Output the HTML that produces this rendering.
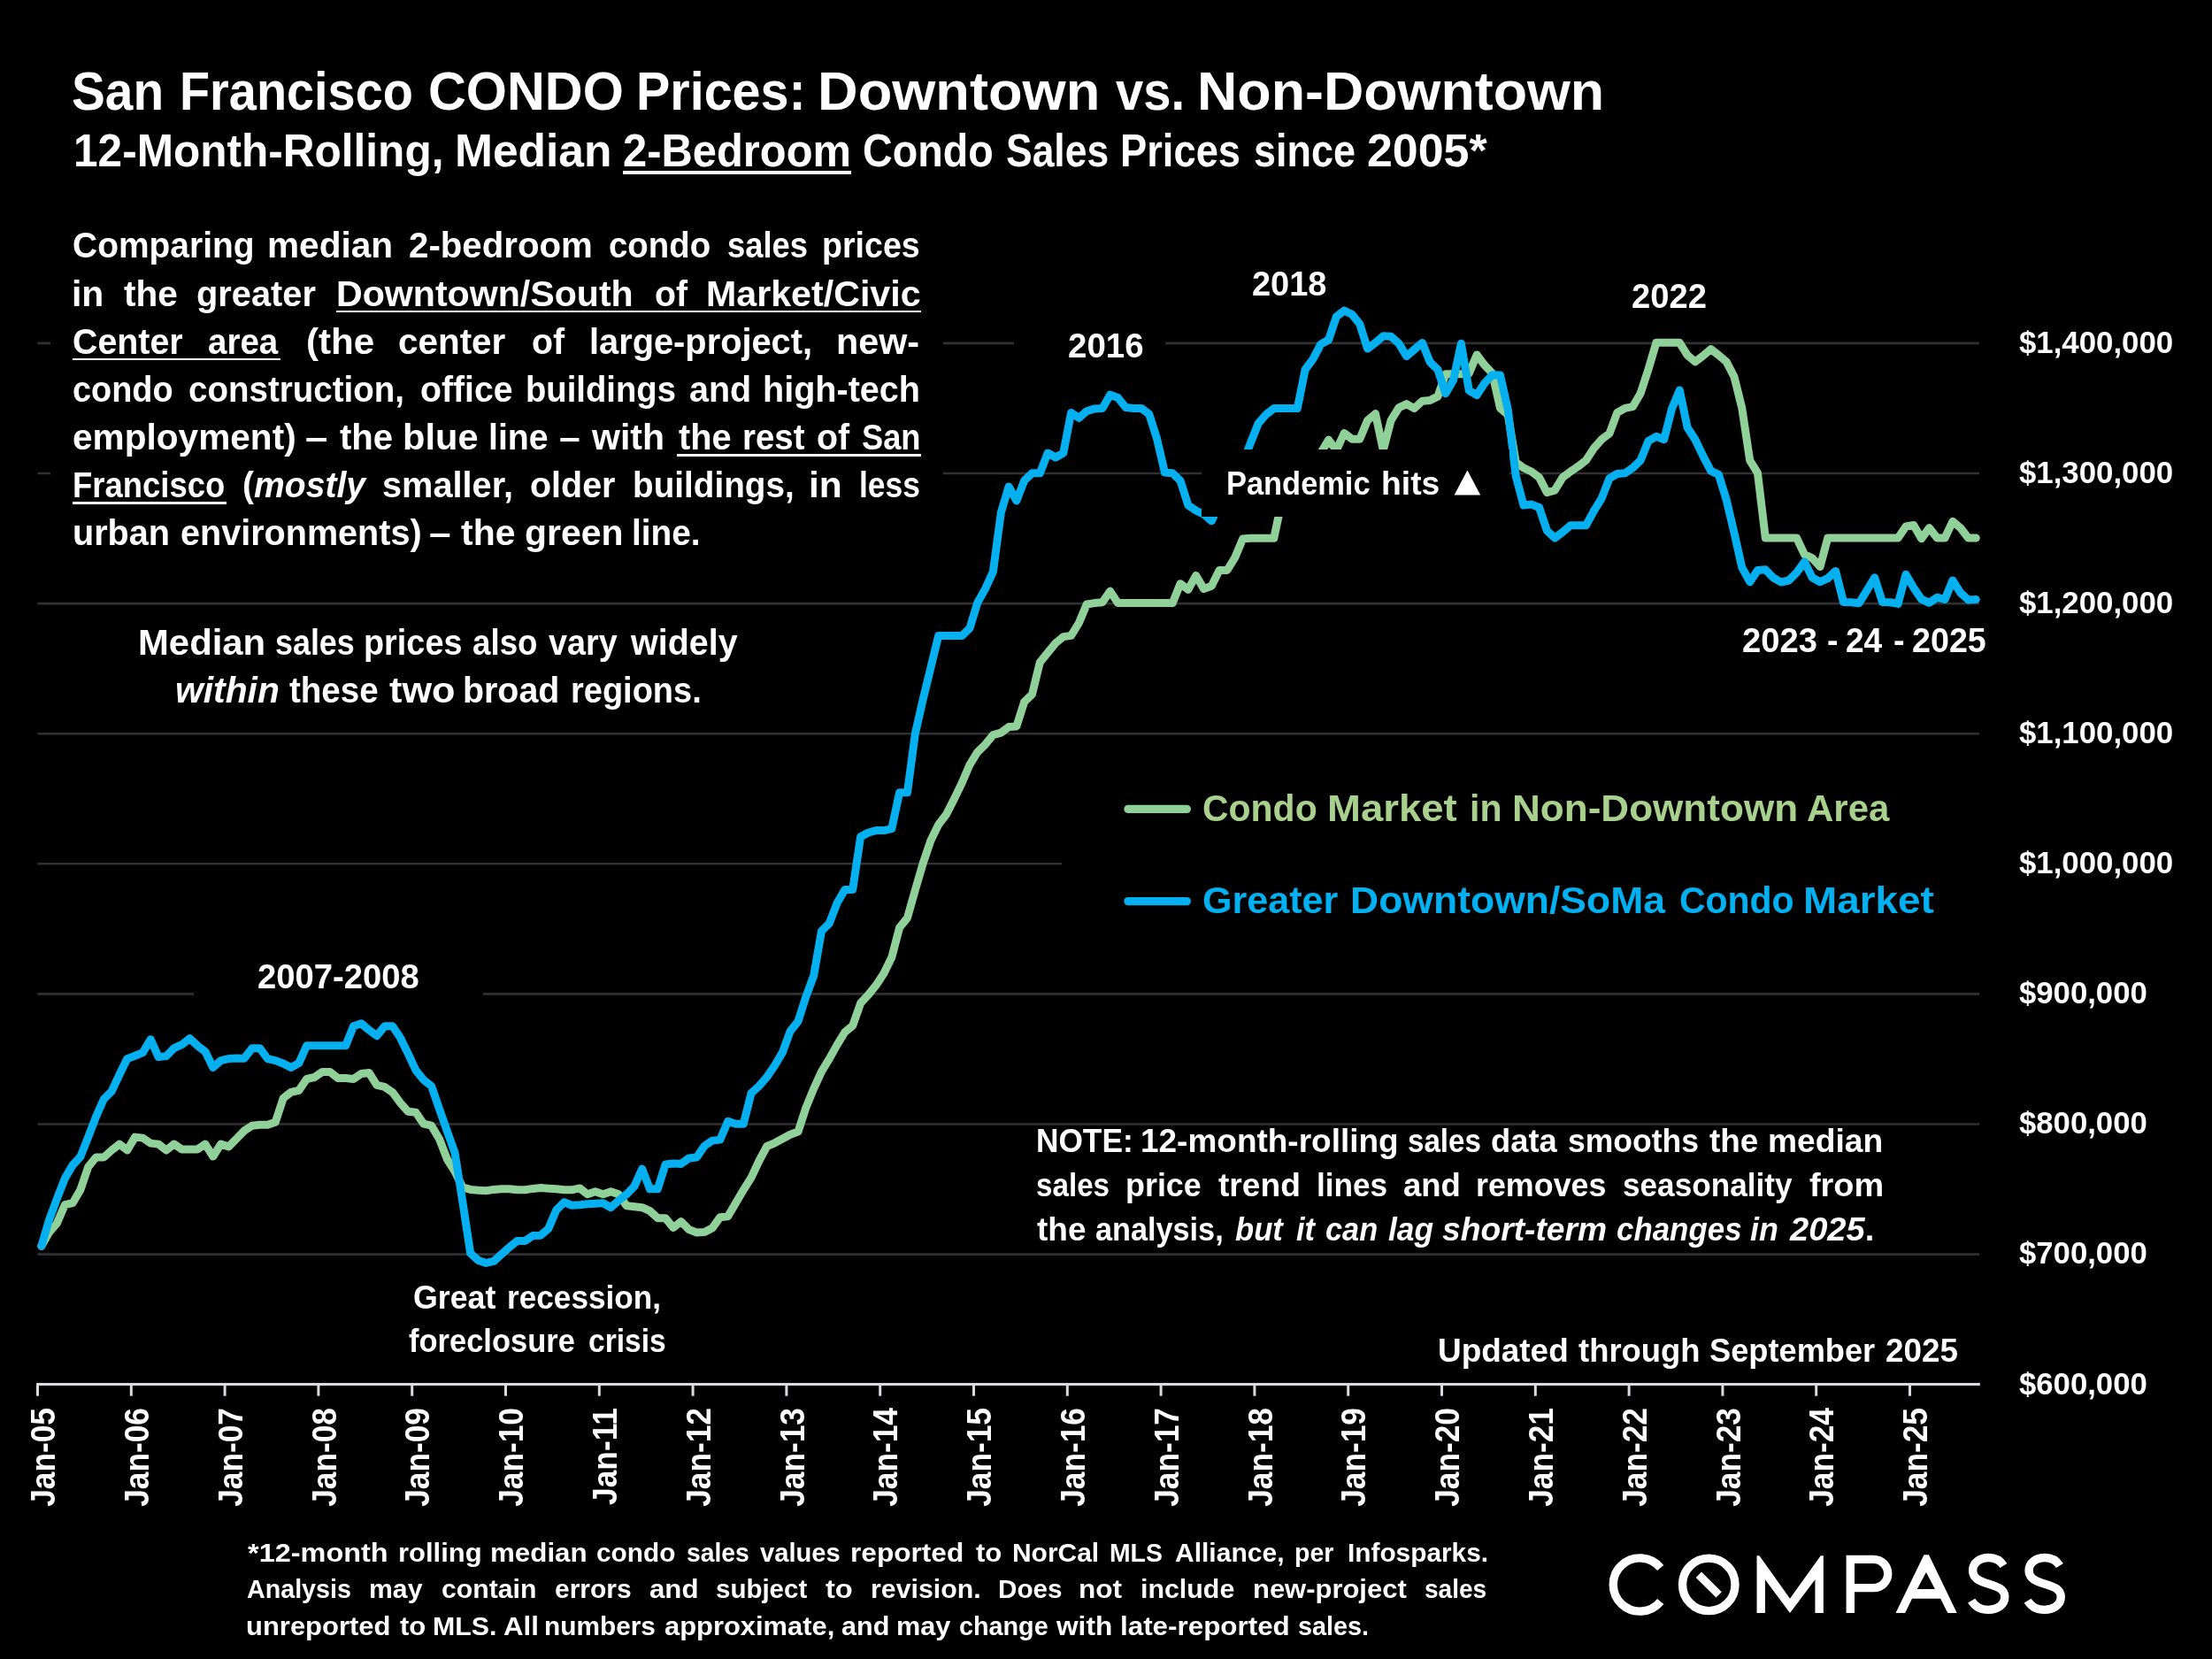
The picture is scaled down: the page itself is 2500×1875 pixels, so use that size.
<!DOCTYPE html>
<html><head><meta charset="utf-8"><title>San Francisco CONDO Prices</title>
<style>
html,body{margin:0;padding:0;background:#000;}
body{width:2500px;height:1875px;position:relative;overflow:hidden;font-family:"Liberation Sans", sans-serif;font-weight:bold;color:#fff;}
.abs{position:absolute;left:0;top:0;}
#txt{position:absolute;left:0;top:0;width:2500px;height:1875px;will-change:transform;}
.t,.xl{position:absolute;white-space:nowrap;line-height:1;transform-origin:0 0;}
.t u{text-decoration-thickness:2.7px;text-underline-offset:5px;text-decoration-skip-ink:none;}
.t u.bu{text-decoration-thickness:4.2px;text-underline-offset:5.2px;}
.ul{position:absolute;height:2.8px;background:#fff;}
.bx{position:absolute;background:#000;}
</style></head>
<body>
<svg class="abs" width="2500" height="1875" viewBox="0 0 2500 1875">
<line x1="42.4" x2="2237" y1="1417.6" y2="1417.6" stroke="#313131" stroke-width="2.6"/>
<line x1="42.4" x2="2237" y1="1270.5" y2="1270.5" stroke="#313131" stroke-width="2.6"/>
<line x1="42.4" x2="2237" y1="1123.4" y2="1123.4" stroke="#313131" stroke-width="2.6"/>
<line x1="42.4" x2="2237" y1="976.3" y2="976.3" stroke="#313131" stroke-width="2.6"/>
<line x1="42.4" x2="2237" y1="829.2" y2="829.2" stroke="#313131" stroke-width="2.6"/>
<line x1="42.4" x2="2237" y1="682.1" y2="682.1" stroke="#313131" stroke-width="2.6"/>
<line x1="42.4" x2="2237" y1="535.0" y2="535.0" stroke="#313131" stroke-width="2.6"/>
<line x1="42.4" x2="2237" y1="387.9" y2="387.9" stroke="#313131" stroke-width="2.6"/>
<path d="M46.8,1408.4 L55.6,1392.9 L64.4,1382.6 L73.3,1361.7 L82.1,1359.7 L90.9,1344.8 L99.7,1318.9 L108.5,1308.0 L117.3,1308.0 L126.2,1300.0 L135.0,1293.1 L143.8,1300.0 L152.6,1285.1 L161.4,1286.1 L170.2,1292.1 L179.1,1293.1 L187.9,1300.0 L196.7,1293.1 L205.5,1299.0 L214.3,1299.0 L223.1,1299.0 L232.0,1293.1 L240.8,1307.0 L249.6,1293.1 L258.4,1296.0 L267.2,1287.1 L276.0,1278.1 L284.9,1272.2 L293.7,1271.2 L302.5,1271.2 L311.3,1268.2 L320.1,1241.3 L328.9,1234.4 L337.8,1232.4 L346.6,1219.5 L355.4,1217.5 L364.2,1211.5 L373.0,1211.5 L381.8,1218.5 L390.7,1218.5 L399.5,1219.5 L408.3,1213.5 L417.1,1212.5 L425.9,1226.4 L434.7,1228.4 L443.6,1234.4 L452.4,1246.4 L461.2,1256.3 L470.0,1257.3 L478.8,1270.2 L487.6,1272.2 L496.5,1287.2 L505.3,1310.0 L514.1,1324.0 L522.9,1341.9 L531.7,1344.4 L540.5,1345.2 L549.4,1345.8 L558.2,1344.4 L567.0,1343.8 L575.8,1343.8 L584.6,1344.8 L593.4,1344.8 L602.3,1343.4 L611.1,1342.5 L619.9,1343.2 L628.7,1343.8 L637.5,1344.8 L646.3,1344.8 L655.2,1342.9 L664.0,1349.8 L672.8,1346.8 L681.6,1349.8 L690.4,1346.8 L699.2,1349.8 L708.1,1362.7 L716.9,1363.7 L725.7,1364.7 L734.5,1368.7 L743.3,1376.7 L752.1,1376.7 L761.0,1387.6 L769.8,1380.6 L778.6,1389.6 L787.4,1393.0 L796.2,1392.6 L805.0,1388.0 L813.9,1375.7 L822.7,1374.7 L831.5,1359.8 L840.3,1344.8 L849.1,1330.9 L857.9,1312.0 L866.8,1295.5 L875.6,1291.8 L884.4,1287.0 L893.2,1282.2 L902.0,1279.1 L910.8,1252.1 L919.7,1230.4 L928.5,1211.1 L937.3,1196.6 L946.1,1180.9 L954.9,1166.5 L963.7,1159.2 L972.6,1133.9 L981.4,1124.3 L990.2,1113.4 L999.0,1100.1 L1007.8,1082.1 L1016.6,1048.3 L1025.5,1037.4 L1034.3,1006.1 L1043.1,976.0 L1051.9,950.0 L1060.7,932.0 L1069.5,920.5 L1078.4,903.0 L1087.2,884.8 L1096.0,864.3 L1104.8,849.9 L1113.6,841.4 L1122.4,830.6 L1131.3,828.2 L1140.1,821.6 L1148.9,820.9 L1157.7,793.2 L1166.5,784.8 L1175.3,748.6 L1184.2,737.7 L1193.0,726.9 L1201.8,719.6 L1210.6,718.4 L1219.4,704.0 L1228.2,683.0 L1237.1,681.6 L1245.9,680.8 L1254.7,668.1 L1263.5,681.6 L1272.3,681.6 L1281.1,681.6 L1290.0,681.6 L1298.8,681.6 L1307.6,681.6 L1316.4,681.6 L1325.2,681.6 L1334.0,659.7 L1342.9,666.4 L1351.7,650.4 L1360.5,665.6 L1369.3,662.2 L1378.1,644.5 L1386.9,644.5 L1395.8,630.1 L1404.6,609.0 L1413.4,608.2 L1422.2,608.2 L1431.0,608.2 L1439.8,608.2 L1448.7,566.0 L1457.5,556.0 L1466.3,546.0 L1475.1,535.0 L1483.9,524.0 L1492.7,512.0 L1501.6,497.1 L1510.4,508.9 L1519.2,489.5 L1528.0,496.2 L1536.8,496.2 L1545.6,475.1 L1554.5,467.6 L1563.3,508.9 L1572.1,475.1 L1580.9,460.8 L1589.7,456.6 L1598.5,461.6 L1607.4,453.2 L1616.2,452.4 L1625.0,448.1 L1633.8,422.8 L1642.6,422.8 L1651.4,422.8 L1660.3,422.0 L1669.1,400.9 L1677.9,412.7 L1686.7,422.0 L1695.5,461.3 L1704.3,468.9 L1713.2,522.4 L1722.0,528.8 L1730.8,533.0 L1739.6,539.7 L1748.4,556.6 L1757.2,554.1 L1766.1,539.7 L1774.9,533.0 L1783.7,527.1 L1792.5,520.3 L1801.3,506.8 L1810.1,496.7 L1819.0,490.0 L1827.8,466.3 L1836.6,461.3 L1845.4,459.6 L1854.2,444.4 L1863.0,417.4 L1871.9,387.3 L1880.7,387.3 L1889.5,387.3 L1898.3,387.3 L1907.1,401.4 L1915.9,408.9 L1924.8,402.2 L1933.6,394.6 L1942.4,401.4 L1951.2,408.9 L1960.0,425.8 L1968.8,461.3 L1977.7,520.3 L1986.5,534.7 L1995.3,608.0 L2004.1,608.0 L2012.9,608.0 L2021.7,608.0 L2030.6,608.0 L2039.4,626.7 L2048.2,630.8 L2057.0,640.6 L2065.8,608.0 L2074.6,608.0 L2083.5,608.0 L2092.3,608.0 L2101.1,608.0 L2109.9,608.0 L2118.7,608.0 L2127.5,608.0 L2136.4,608.0 L2145.2,608.0 L2154.0,595.0 L2162.8,593.4 L2171.6,608.8 L2180.4,596.6 L2189.3,608.0 L2198.1,608.0 L2206.9,589.3 L2215.7,596.6 L2224.5,608.0 L2233.3,608.0" fill="none" stroke="#90D19A" stroke-width="9" stroke-linejoin="round" stroke-linecap="round"/>
<path d="M46.8,1408.4 L55.6,1378.6 L64.4,1354.7 L73.3,1331.9 L82.1,1316.9 L90.9,1307.4 L99.7,1285.1 L108.5,1262.2 L117.3,1242.3 L126.2,1233.4 L135.0,1214.5 L143.8,1196.6 L152.6,1193.2 L161.4,1189.6 L170.2,1174.7 L179.1,1194.6 L187.9,1193.6 L196.7,1184.7 L205.5,1180.7 L214.3,1173.7 L223.1,1181.7 L232.0,1188.6 L240.8,1206.5 L249.6,1198.6 L258.4,1196.6 L267.2,1196.0 L276.0,1196.2 L284.9,1184.7 L293.7,1184.7 L302.5,1196.6 L311.3,1198.6 L320.1,1202.0 L328.9,1206.5 L337.8,1201.6 L346.6,1181.7 L355.4,1181.7 L364.2,1181.7 L373.0,1181.7 L381.8,1181.7 L390.7,1181.7 L399.5,1159.8 L408.3,1156.8 L417.1,1164.2 L425.9,1170.7 L434.7,1159.8 L443.6,1159.8 L452.4,1172.8 L461.2,1190.7 L470.0,1209.6 L478.8,1220.5 L487.6,1227.5 L496.5,1253.3 L505.3,1278.2 L514.1,1303.1 L522.9,1358.8 L531.7,1416.5 L540.5,1424.4 L549.4,1427.4 L558.2,1425.4 L567.0,1417.4 L575.8,1409.5 L584.6,1402.5 L593.4,1402.5 L602.3,1396.6 L611.1,1396.2 L619.9,1388.6 L628.7,1367.7 L637.5,1358.8 L646.3,1362.3 L655.2,1361.7 L664.0,1360.8 L672.8,1360.2 L681.6,1359.8 L690.4,1364.7 L699.2,1356.8 L708.1,1349.8 L716.9,1340.9 L725.7,1321.0 L734.5,1343.8 L743.3,1343.8 L752.1,1316.0 L761.0,1315.0 L769.8,1315.4 L778.6,1309.0 L787.4,1308.0 L796.2,1295.1 L805.0,1289.1 L813.9,1288.1 L822.7,1267.3 L831.5,1270.2 L840.3,1270.2 L849.1,1235.4 L857.9,1227.5 L866.8,1217.1 L875.6,1204.3 L884.4,1189.4 L893.2,1165.3 L902.0,1154.4 L910.8,1126.7 L919.7,1102.6 L928.5,1052.4 L937.3,1043.5 L946.1,1020.6 L954.9,1005.4 L963.7,1005.4 L972.6,945.8 L981.4,941.0 L990.2,938.6 L999.0,938.6 L1007.8,936.7 L1016.6,895.7 L1025.5,895.7 L1034.3,829.4 L1043.1,790.8 L1051.9,754.6 L1060.7,718.4 L1069.5,718.4 L1078.4,718.4 L1087.2,718.4 L1096.0,710.0 L1104.8,681.1 L1113.6,665.4 L1122.4,646.2 L1131.3,579.5 L1140.1,550.0 L1148.9,566.0 L1157.7,543.2 L1166.5,534.8 L1175.3,534.8 L1184.2,512.0 L1193.0,517.0 L1201.8,512.0 L1210.6,466.4 L1219.4,472.3 L1228.2,464.7 L1237.1,461.9 L1245.9,461.4 L1254.7,446.2 L1263.5,449.5 L1272.3,460.5 L1281.1,461.4 L1290.0,461.4 L1298.8,468.1 L1307.6,495.9 L1316.4,533.9 L1325.2,534.8 L1334.0,543.2 L1342.9,571.1 L1351.7,577.0 L1360.5,581.2 L1369.3,588.8 L1378.1,570.0 L1386.9,555.0 L1395.8,540.0 L1404.6,524.0 L1413.4,500.5 L1422.2,478.5 L1431.0,468.4 L1439.8,461.6 L1448.7,461.6 L1457.5,461.6 L1466.3,461.6 L1475.1,417.8 L1483.9,405.9 L1492.7,389.1 L1501.6,384.0 L1510.4,357.8 L1519.2,351.1 L1528.0,355.3 L1536.8,366.3 L1545.6,394.1 L1554.5,387.4 L1563.3,379.8 L1572.1,380.3 L1580.9,388.2 L1589.7,402.6 L1598.5,395.0 L1607.4,387.4 L1616.2,409.3 L1625.0,417.8 L1633.8,444.8 L1642.6,429.6 L1651.4,388.2 L1660.3,441.4 L1669.1,446.5 L1677.9,433.0 L1686.7,423.7 L1695.5,424.1 L1704.3,463.0 L1713.2,538.1 L1722.0,571.0 L1730.8,570.1 L1739.6,573.5 L1748.4,599.7 L1757.2,608.1 L1766.1,601.4 L1774.9,593.8 L1783.7,593.8 L1792.5,593.8 L1801.3,577.7 L1810.1,563.4 L1819.0,540.6 L1827.8,535.5 L1836.6,534.7 L1845.4,528.8 L1854.2,520.3 L1863.0,498.4 L1871.9,493.3 L1880.7,496.7 L1889.5,462.1 L1898.3,441.0 L1907.1,483.2 L1915.9,496.7 L1924.8,515.3 L1933.6,532.2 L1942.4,536.4 L1951.2,564.9 L1960.0,602.3 L1968.8,641.4 L1977.7,657.7 L1986.5,644.6 L1995.3,643.8 L2004.1,652.8 L2012.9,658.0 L2021.7,656.0 L2030.6,647.1 L2039.4,634.9 L2048.2,652.8 L2057.0,657.7 L2065.8,653.6 L2074.6,645.4 L2083.5,680.4 L2092.3,680.8 L2101.1,681.7 L2109.9,667.4 L2118.7,652.8 L2127.5,680.4 L2136.4,680.8 L2145.2,682.4 L2154.0,649.2 L2162.8,664.2 L2171.6,677.2 L2180.4,681.3 L2189.3,675.2 L2198.1,677.5 L2206.9,656.0 L2215.7,669.9 L2224.5,678.0 L2233.3,677.5" fill="none" stroke="#05B0F0" stroke-width="9" stroke-linejoin="round" stroke-linecap="round"/>
</svg>
<div class="bx" style="left:57px;top:240px;width:1009px;height:400px"></div>
<div class="bx" style="left:1145.6px;top:355px;width:171.8px;height:70px"></div>
<div class="bx" style="left:1357.6px;top:507.8px;width:348.4px;height:75.9px"></div>
<div class="bx" style="left:218.7px;top:1080px;width:327.3px;height:58px"></div>
<div class="bx" style="left:1200px;top:880px;width:1100px;height:200px"></div>
<svg class="abs" width="2500" height="1875" viewBox="0 0 2500 1875">
<line x1="41.1" x2="2237.8" y1="1564.5" y2="1564.5" stroke="#DADAE0" stroke-width="3"/>
<line x1="42.5" x2="42.5" y1="1564.7" y2="1577.7" stroke="#DADAE0" stroke-width="3"/>
<line x1="148.3" x2="148.3" y1="1564.7" y2="1577.7" stroke="#DADAE0" stroke-width="3"/>
<line x1="254.1" x2="254.1" y1="1564.7" y2="1577.7" stroke="#DADAE0" stroke-width="3"/>
<line x1="359.9" x2="359.9" y1="1564.7" y2="1577.7" stroke="#DADAE0" stroke-width="3"/>
<line x1="465.7" x2="465.7" y1="1564.7" y2="1577.7" stroke="#DADAE0" stroke-width="3"/>
<line x1="571.5" x2="571.5" y1="1564.7" y2="1577.7" stroke="#DADAE0" stroke-width="3"/>
<line x1="677.3" x2="677.3" y1="1564.7" y2="1577.7" stroke="#DADAE0" stroke-width="3"/>
<line x1="783.1" x2="783.1" y1="1564.7" y2="1577.7" stroke="#DADAE0" stroke-width="3"/>
<line x1="888.9" x2="888.9" y1="1564.7" y2="1577.7" stroke="#DADAE0" stroke-width="3"/>
<line x1="994.7" x2="994.7" y1="1564.7" y2="1577.7" stroke="#DADAE0" stroke-width="3"/>
<line x1="1100.5" x2="1100.5" y1="1564.7" y2="1577.7" stroke="#DADAE0" stroke-width="3"/>
<line x1="1206.3" x2="1206.3" y1="1564.7" y2="1577.7" stroke="#DADAE0" stroke-width="3"/>
<line x1="1312.1" x2="1312.1" y1="1564.7" y2="1577.7" stroke="#DADAE0" stroke-width="3"/>
<line x1="1417.9" x2="1417.9" y1="1564.7" y2="1577.7" stroke="#DADAE0" stroke-width="3"/>
<line x1="1523.7" x2="1523.7" y1="1564.7" y2="1577.7" stroke="#DADAE0" stroke-width="3"/>
<line x1="1629.5" x2="1629.5" y1="1564.7" y2="1577.7" stroke="#DADAE0" stroke-width="3"/>
<line x1="1735.3" x2="1735.3" y1="1564.7" y2="1577.7" stroke="#DADAE0" stroke-width="3"/>
<line x1="1841.1" x2="1841.1" y1="1564.7" y2="1577.7" stroke="#DADAE0" stroke-width="3"/>
<line x1="1946.9" x2="1946.9" y1="1564.7" y2="1577.7" stroke="#DADAE0" stroke-width="3"/>
<line x1="2052.7" x2="2052.7" y1="1564.7" y2="1577.7" stroke="#DADAE0" stroke-width="3"/>
<line x1="2158.5" x2="2158.5" y1="1564.7" y2="1577.7" stroke="#DADAE0" stroke-width="3"/>
<line x1="1275" x2="1341.3" y1="914.4" y2="914.4" stroke="#90D19A" stroke-width="9.3" stroke-linecap="round"/>
<line x1="1275" x2="1341.3" y1="1018.6" y2="1018.6" stroke="#05B0F0" stroke-width="9.3" stroke-linecap="round"/>
<polygon points="1643.6,559.4 1673.2,559.4 1658.4,531.6" fill="#fff"/>
</svg>
<svg class="abs" width="2500" height="1875" viewBox="0 0 2500 1875">
<g transform="translate(1810,1745) scale(0.122055)" fill="none" stroke="#fff" stroke-width="77">
<path d="M 546.5,221.6 A 246.5,246.5 0 1 0 546.5,532.4"/>
<circle cx="993.5" cy="376" r="243.5"/>
<line x1="900" y1="285" x2="1087" y2="470" stroke-width="74"/>
<polygon stroke="none" fill="#fff" points="1438,640 1438,108 1462,108 1745,505 2030,108 2055,108 2055,640 1978,640 1978,330 1745,640 1515,330 1515,640"/>
</g>
<g transform="translate(2075,1745) scale(0.122055)" fill="none" stroke="#fff" stroke-width="77">
<path d="M 133.5,640 V 142.5 H 349 A 132,132 0 0 1 349,406.5 H 133.5"/>
<path stroke="none" fill="#fff" fill-rule="evenodd" d="M553,640 L815,100 L860,100 L1120,640 L1035,640 L968,505 L705,505 L640,640 Z M835,262 L752,418 L917,418 Z"/>
<path d="M 1552,200 C 1520,150 1470,127 1415,127 C 1330,127 1267,175 1267,245 C 1267,320 1330,345 1415,370 C 1500,395 1563,420 1563,490 C 1563,560 1500,609 1410,609 C 1340,609 1285,575 1255,525"/>
<path transform="translate(520,0)" d="M 1552,200 C 1520,150 1470,127 1415,127 C 1330,127 1267,175 1267,245 C 1267,320 1330,345 1415,370 C 1500,395 1563,420 1563,490 C 1563,560 1500,609 1410,609 C 1340,609 1285,575 1255,525"/>
</g>
</svg>
<div id="txt">
<div class="xl" style="left:30.10px;top:1590.80px;font-size:38.0px;transform:rotate(-90deg) scaleX(0.9290) translateX(-100%);">Jan-05</div>
<div class="xl" style="left:135.90px;top:1590.80px;font-size:38.0px;transform:rotate(-90deg) scaleX(0.9290) translateX(-100%);">Jan-06</div>
<div class="xl" style="left:241.70px;top:1590.80px;font-size:38.0px;transform:rotate(-90deg) scaleX(0.9290) translateX(-100%);">Jan-07</div>
<div class="xl" style="left:347.50px;top:1590.80px;font-size:38.0px;transform:rotate(-90deg) scaleX(0.9290) translateX(-100%);">Jan-08</div>
<div class="xl" style="left:453.30px;top:1590.80px;font-size:38.0px;transform:rotate(-90deg) scaleX(0.9290) translateX(-100%);">Jan-09</div>
<div class="xl" style="left:559.10px;top:1590.80px;font-size:38.0px;transform:rotate(-90deg) scaleX(0.9290) translateX(-100%);">Jan-10</div>
<div class="xl" style="left:664.90px;top:1590.80px;font-size:38.0px;transform:rotate(-90deg) scaleX(0.9290) translateX(-100%);">Jan-11</div>
<div class="xl" style="left:770.70px;top:1590.80px;font-size:38.0px;transform:rotate(-90deg) scaleX(0.9290) translateX(-100%);">Jan-12</div>
<div class="xl" style="left:876.50px;top:1590.80px;font-size:38.0px;transform:rotate(-90deg) scaleX(0.9290) translateX(-100%);">Jan-13</div>
<div class="xl" style="left:982.30px;top:1590.80px;font-size:38.0px;transform:rotate(-90deg) scaleX(0.9290) translateX(-100%);">Jan-14</div>
<div class="xl" style="left:1088.10px;top:1590.80px;font-size:38.0px;transform:rotate(-90deg) scaleX(0.9290) translateX(-100%);">Jan-15</div>
<div class="xl" style="left:1193.90px;top:1590.80px;font-size:38.0px;transform:rotate(-90deg) scaleX(0.9290) translateX(-100%);">Jan-16</div>
<div class="xl" style="left:1299.70px;top:1590.80px;font-size:38.0px;transform:rotate(-90deg) scaleX(0.9290) translateX(-100%);">Jan-17</div>
<div class="xl" style="left:1405.51px;top:1590.80px;font-size:38.0px;transform:rotate(-90deg) scaleX(0.9290) translateX(-100%);">Jan-18</div>
<div class="xl" style="left:1511.31px;top:1590.80px;font-size:38.0px;transform:rotate(-90deg) scaleX(0.9290) translateX(-100%);">Jan-19</div>
<div class="xl" style="left:1617.11px;top:1590.80px;font-size:38.0px;transform:rotate(-90deg) scaleX(0.9290) translateX(-100%);">Jan-20</div>
<div class="xl" style="left:1722.91px;top:1590.80px;font-size:38.0px;transform:rotate(-90deg) scaleX(0.9290) translateX(-100%);">Jan-21</div>
<div class="xl" style="left:1828.71px;top:1590.80px;font-size:38.0px;transform:rotate(-90deg) scaleX(0.9290) translateX(-100%);">Jan-22</div>
<div class="xl" style="left:1934.51px;top:1590.80px;font-size:38.0px;transform:rotate(-90deg) scaleX(0.9290) translateX(-100%);">Jan-23</div>
<div class="xl" style="left:2040.31px;top:1590.80px;font-size:38.0px;transform:rotate(-90deg) scaleX(0.9290) translateX(-100%);">Jan-24</div>
<div class="xl" style="left:2146.11px;top:1590.80px;font-size:38.0px;transform:rotate(-90deg) scaleX(0.9290) translateX(-100%);">Jan-25</div>
<div class="t" id="ti0" style="left:81.47px;top:72px;font-size:61.5px;transform:scaleX(0.9227);">San</div>
<div class="t" id="ti1" style="left:202.92px;top:72px;font-size:61.5px;transform:scaleX(0.9080);">Francisco</div>
<div class="t" id="ti2" style="left:483.60px;top:72px;font-size:61.5px;transform:scaleX(0.9644);">CONDO</div>
<div class="t" id="ti3" style="left:719.40px;top:72px;font-size:61.5px;transform:scaleX(0.9342);">Prices:</div>
<div class="t" id="ti4" style="left:924.00px;top:72px;font-size:61.5px;transform:scaleX(1.0274);">Downtown</div>
<div class="t" id="ti5" style="left:1260.80px;top:72px;font-size:61.5px;transform:scaleX(0.9134);">vs.</div>
<div class="t" id="ti6" style="left:1353.40px;top:72px;font-size:61.5px;transform:scaleX(1.0207);">Non-Downtown</div>
<div class="t" id="su0" style="left:82.60px;top:144px;font-size:52.0px;transform:scaleX(0.9531);">12-Month-Rolling,</div>
<div class="t" id="su1" style="left:514.40px;top:144px;font-size:52.0px;transform:scaleX(0.9906);">Median</div>
<div class="t" id="su2" style="left:704.00px;top:144px;font-size:52.0px;transform:scaleX(0.9397);"><u class="bu">2-Bedroom</u></div>
<div class="t" id="su3" style="left:975.31px;top:144px;font-size:52.0px;transform:scaleX(0.8971);">Condo</div>
<div class="t" id="su4" style="left:1137.00px;top:144px;font-size:52.0px;transform:scaleX(0.8546);">Sales</div>
<div class="t" id="su5" style="left:1266.20px;top:144px;font-size:52.0px;transform:scaleX(0.8714);">Prices</div>
<div class="t" id="su6" style="left:1416.55px;top:144px;font-size:52.0px;transform:scaleX(0.8639);">since</div>
<div class="t" id="su7" style="left:1545.29px;top:144px;font-size:52.0px;transform:scaleX(0.9977);">2005*</div>
<div class="t" id="p0_0" style="left:81.68px;top:257px;font-size:40.0px;transform:scaleX(0.9737);">Comparing</div>
<div class="t" id="p0_1" style="left:302.04px;top:257px;font-size:40.0px;transform:scaleX(1.0145);">median</div>
<div class="t" id="p0_2" style="left:461.60px;top:257px;font-size:40.0px;transform:scaleX(1.0059);">2-bedroom</div>
<div class="t" id="p0_3" style="left:688.40px;top:257px;font-size:40.0px;transform:scaleX(0.9591);">condo</div>
<div class="t" id="p0_4" style="left:821.60px;top:257px;font-size:40.0px;transform:scaleX(0.9101);">sales</div>
<div class="t" id="p0_5" style="left:929.40px;top:257px;font-size:40.0px;transform:scaleX(0.9397);">prices</div>
<div class="t" id="p1_0" style="left:80.72px;top:312px;font-size:40.0px;transform:scaleX(1.0226);">in</div>
<div class="t" id="p1_1" style="left:139.80px;top:312px;font-size:40.0px;transform:scaleX(1.0138);">the</div>
<div class="t" id="p1_2" style="left:221.88px;top:312px;font-size:40.0px;transform:scaleX(0.9945);">greater</div>
<div class="t" id="p1_3" style="left:380.02px;top:312px;font-size:40.0px;transform:scaleX(1.0280);">Downtown/South</div>
<div class="t" id="p1_4" style="left:739.53px;top:312px;font-size:40.0px;transform:scaleX(0.9816);">of</div>
<div class="t" id="p1_5" style="left:797.59px;top:312px;font-size:40.0px;transform:scaleX(1.0293);">Market/Civic</div>
<div class="t" id="p2_0" style="left:81.58px;top:366px;font-size:40.0px;transform:scaleX(0.9833);">Center</div>
<div class="t" id="p2_1" style="left:235.00px;top:366px;font-size:40.0px;transform:scaleX(0.9624);">area</div>
<div class="t" id="p2_2" style="left:345.80px;top:366px;font-size:40.0px;transform:scaleX(1.0541);">(the</div>
<div class="t" id="p2_3" style="left:449.98px;top:366px;font-size:40.0px;transform:scaleX(1.0103);">center</div>
<div class="t" id="p2_4" style="left:600.53px;top:366px;font-size:40.0px;transform:scaleX(0.9816);">of</div>
<div class="t" id="p2_5" style="left:666.00px;top:366px;font-size:40.0px;transform:scaleX(0.9947);">large-project,</div>
<div class="t" id="p2_6" style="left:945.16px;top:366px;font-size:40.0px;transform:scaleX(1.0331);">new-</div>
<div class="t" id="p3_0" style="left:82.40px;top:420px;font-size:40.0px;transform:scaleX(0.9464);">condo</div>
<div class="t" id="p3_1" style="left:212.60px;top:420px;font-size:40.0px;transform:scaleX(0.9631);">construction,</div>
<div class="t" id="p3_2" style="left:474.80px;top:420px;font-size:40.0px;transform:scaleX(0.9796);">office</div>
<div class="t" id="p3_3" style="left:594.00px;top:420px;font-size:40.0px;transform:scaleX(0.9562);">buildings</div>
<div class="t" id="p3_4" style="left:779.40px;top:420px;font-size:40.0px;transform:scaleX(0.9863);">and</div>
<div class="t" id="p3_5" style="left:862.14px;top:420px;font-size:40.0px;transform:scaleX(0.9890);">high-tech</div>
<div class="t" id="p4_0" style="left:81.64px;top:474px;font-size:40.0px;transform:scaleX(1.0151);">employment)</div>
<div class="t" id="p4_1" style="left:345.20px;top:474px;font-size:40.0px;transform:scaleX(1.1369);">–</div>
<div class="t" id="p4_2" style="left:383.60px;top:474px;font-size:40.0px;transform:scaleX(1.0029);">the</div>
<div class="t" id="p4_3" style="left:455.44px;top:474px;font-size:40.0px;transform:scaleX(1.0400);">blue</div>
<div class="t" id="p4_4" style="left:552.24px;top:474px;font-size:40.0px;transform:scaleX(0.9829);">line</div>
<div class="t" id="p4_5" style="left:632.40px;top:474px;font-size:40.0px;transform:scaleX(1.0665);">–</div>
<div class="t" id="p4_6" style="left:668.84px;top:474px;font-size:40.0px;transform:scaleX(1.0258);">with</div>
<div class="t" id="p4_7" style="left:766.60px;top:474px;font-size:40.0px;transform:scaleX(0.9951);">the</div>
<div class="t" id="p4_8" style="left:839.33px;top:474px;font-size:40.0px;transform:scaleX(0.9596);">rest</div>
<div class="t" id="p4_9" style="left:923.33px;top:474px;font-size:40.0px;transform:scaleX(0.9816);">of</div>
<div class="t" id="p4_10" style="left:973.60px;top:474px;font-size:40.0px;transform:scaleX(0.9062);">San</div>
<div class="t" id="p5_0" style="left:81.80px;top:528px;font-size:40.0px;transform:scaleX(0.9121);">Francisco</div>
<div class="t" id="p5_1" style="left:273.90px;top:528px;font-size:40.0px;transform:scaleX(0.9771);">(<i>mostly</i></div>
<div class="t" id="p5_2" style="left:431.87px;top:528px;font-size:40.0px;transform:scaleX(0.9928);">smaller,</div>
<div class="t" id="p5_3" style="left:598.99px;top:528px;font-size:40.0px;transform:scaleX(0.9865);">older</div>
<div class="t" id="p5_4" style="left:714.96px;top:528px;font-size:40.0px;transform:scaleX(0.9671);">buildings,</div>
<div class="t" id="p5_5" style="left:913.54px;top:528px;font-size:40.0px;transform:scaleX(1.0639);">in</div>
<div class="t" id="p5_6" style="left:971.40px;top:528px;font-size:40.0px;transform:scaleX(0.8859);">less</div>
<div class="t" id="p6_0" style="left:81.80px;top:582px;font-size:40.0px;transform:scaleX(0.9905);">urban</div>
<div class="t" id="p6_1" style="left:204.06px;top:582px;font-size:40.0px;transform:scaleX(0.9890);">environments)</div>
<div class="t" id="p6_2" style="left:485.40px;top:582px;font-size:40.0px;transform:scaleX(1.1058);">–</div>
<div class="t" id="p6_3" style="left:521.40px;top:582px;font-size:40.0px;transform:scaleX(1.0234);">the</div>
<div class="t" id="p6_4" style="left:592.88px;top:582px;font-size:40.0px;transform:scaleX(1.0229);">green</div>
<div class="t" id="p6_5" style="left:714.43px;top:582px;font-size:40.0px;transform:scaleX(0.9705);">line.</div>
<div class="t" id="m0_0" style="left:155.76px;top:706px;font-size:40.0px;transform:scaleX(1.0464);">Median</div>
<div class="t" id="m0_1" style="left:310.80px;top:706px;font-size:40.0px;transform:scaleX(0.8966);">sales</div>
<div class="t" id="m0_2" style="left:411.40px;top:706px;font-size:40.0px;transform:scaleX(0.9458);">prices</div>
<div class="t" id="m0_3" style="left:534.00px;top:706px;font-size:40.0px;transform:scaleX(0.9190);">also</div>
<div class="t" id="m0_4" style="left:620.40px;top:706px;font-size:40.0px;transform:scaleX(0.9443);">vary</div>
<div class="t" id="m0_5" style="left:713.47px;top:706px;font-size:40.0px;transform:scaleX(0.9866);">widely</div>
<div class="t" id="m1_0" style="left:197.83px;top:760px;font-size:40.0px;transform:scaleX(1.0198);"><i>within</i></div>
<div class="t" id="m1_1" style="left:327.00px;top:760px;font-size:40.0px;transform:scaleX(0.9634);">these</div>
<div class="t" id="m1_2" style="left:439.60px;top:760px;font-size:40.0px;transform:scaleX(1.0802);">two</div>
<div class="t" id="m1_3" style="left:523.27px;top:760px;font-size:40.0px;transform:scaleX(0.9842);">broad</div>
<div class="t" id="m1_4" style="left:644.80px;top:760px;font-size:40.0px;transform:scaleX(0.9497);">regions.</div>
<div class="t" id="y2016" style="left:1207.00px;top:372px;font-size:38.0px;transform:scaleX(1.0125);">2016</div>
<div class="t" id="y2018" style="left:1414.80px;top:302px;font-size:38.0px;transform:scaleX(0.9989);">2018</div>
<div class="t" id="y2022" style="left:1844.20px;top:316px;font-size:38.0px;transform:scaleX(1.0040);">2022</div>
<div class="t" id="pand_0" style="left:1386.00px;top:528px;font-size:37.5px;transform:scaleX(0.9176);">Pandemic</div>
<div class="t" id="pand_1" style="left:1560.82px;top:528px;font-size:37.5px;transform:scaleX(0.9954);">hits</div>
<div class="t" id="y2325_0" style="left:1969.00px;top:705px;font-size:38.0px;transform:scaleX(1.0049);">2023</div>
<div class="t" id="y2325_1" style="left:2064.73px;top:705px;font-size:38.0px;transform:scaleX(0.9868);">-</div>
<div class="t" id="y2325_2" style="left:2086.00px;top:705px;font-size:38.0px;transform:scaleX(0.9754);">24</div>
<div class="t" id="y2325_3" style="left:2139.60px;top:705px;font-size:38.0px;transform:scaleX(0.9931);">-</div>
<div class="t" id="y2325_4" style="left:2161.20px;top:705px;font-size:38.0px;transform:scaleX(0.9909);">2025</div>
<div class="t" id="lg_0" style="left:1358.80px;top:892px;font-size:43.0px;transform:scaleX(0.9526);color:#A9D18E;">Condo</div>
<div class="t" id="lg_1" style="left:1500.20px;top:892px;font-size:43.0px;transform:scaleX(1.0583);color:#A9D18E;">Market</div>
<div class="t" id="lg_2" style="left:1660.67px;top:892px;font-size:43.0px;transform:scaleX(0.9556);color:#A9D18E;">in</div>
<div class="t" id="lg_3" style="left:1709.30px;top:892px;font-size:43.0px;transform:scaleX(1.0249);color:#A9D18E;">Non-Downtown</div>
<div class="t" id="lg_4" style="left:2042.00px;top:892px;font-size:43.0px;transform:scaleX(0.9759);color:#A9D18E;">Area</div>
<div class="t" id="lb_0" style="left:1359.45px;top:997px;font-size:42.5px;transform:scaleX(1.0144);color:#00B0F0;">Greater</div>
<div class="t" id="lb_1" style="left:1526.12px;top:997px;font-size:42.5px;transform:scaleX(1.0472);color:#00B0F0;">Downtown/SoMa</div>
<div class="t" id="lb_2" style="left:1897.72px;top:997px;font-size:42.5px;transform:scaleX(0.9636);color:#00B0F0;">Condo</div>
<div class="t" id="lb_3" style="left:2038.00px;top:997px;font-size:42.5px;transform:scaleX(1.0785);color:#00B0F0;">Market</div>
<div class="t" id="y0708" style="left:291.00px;top:1085px;font-size:38.0px;transform:scaleX(1.0054);">2007-2008</div>
<div class="t" id="gr0_0" style="left:467.20px;top:1449px;font-size:36.0px;transform:scaleX(0.9932);">Great</div>
<div class="t" id="gr0_1" style="left:573.20px;top:1449px;font-size:36.0px;transform:scaleX(0.9776);">recession,</div>
<div class="t" id="gr1_0" style="left:462.21px;top:1498px;font-size:36.0px;transform:scaleX(0.9583);">foreclosure</div>
<div class="t" id="gr1_1" style="left:664.60px;top:1498px;font-size:36.0px;transform:scaleX(0.9328);">crisis</div>
<div class="t" id="n0_0" style="left:1170.60px;top:1271px;font-size:37.0px;transform:scaleX(0.9527);">NOTE:</div>
<div class="t" id="n0_1" style="left:1288.60px;top:1271px;font-size:37.0px;transform:scaleX(0.9991);">12-month-rolling</div>
<div class="t" id="n0_2" style="left:1591.40px;top:1271px;font-size:37.0px;transform:scaleX(0.8952);">sales</div>
<div class="t" id="n0_3" style="left:1684.80px;top:1271px;font-size:37.0px;transform:scaleX(0.9815);">data</div>
<div class="t" id="n0_4" style="left:1771.83px;top:1271px;font-size:37.0px;transform:scaleX(0.9604);">smooths</div>
<div class="t" id="n0_5" style="left:1931.60px;top:1271px;font-size:37.0px;transform:scaleX(0.9977);">the</div>
<div class="t" id="n0_6" style="left:1998.00px;top:1271px;font-size:37.0px;transform:scaleX(1.0048);">median</div>
<div class="t" id="n1_0" style="left:1170.80px;top:1321px;font-size:37.0px;transform:scaleX(0.8973);">sales</div>
<div class="t" id="n1_1" style="left:1272.20px;top:1321px;font-size:37.0px;transform:scaleX(0.9700);">price</div>
<div class="t" id="n1_2" style="left:1377.00px;top:1321px;font-size:37.0px;transform:scaleX(1.0042);">trend</div>
<div class="t" id="n1_3" style="left:1487.60px;top:1321px;font-size:37.0px;transform:scaleX(0.9498);">lines</div>
<div class="t" id="n1_4" style="left:1586.20px;top:1321px;font-size:37.0px;transform:scaleX(0.9859);">and</div>
<div class="t" id="n1_5" style="left:1668.00px;top:1321px;font-size:37.0px;transform:scaleX(0.9685);">removes</div>
<div class="t" id="n1_6" style="left:1834.29px;top:1321px;font-size:37.0px;transform:scaleX(0.9500);">seasonality</div>
<div class="t" id="n1_7" style="left:2045.33px;top:1321px;font-size:37.0px;transform:scaleX(1.0234);">from</div>
<div class="t" id="n2_0" style="left:1172.40px;top:1371px;font-size:37.0px;transform:scaleX(1.0003);">the</div>
<div class="t" id="n2_1" style="left:1237.60px;top:1371px;font-size:37.0px;transform:scaleX(0.9253);">analysis,</div>
<div class="t" id="n2_2" style="left:1396.00px;top:1371px;font-size:37.0px;transform:scaleX(0.9354);"><i>but</i></div>
<div class="t" id="n2_3" style="left:1464.53px;top:1371px;font-size:37.0px;transform:scaleX(0.9314);"><i>it</i></div>
<div class="t" id="n2_4" style="left:1497.60px;top:1371px;font-size:37.0px;transform:scaleX(0.9282);"><i>can</i></div>
<div class="t" id="n2_5" style="left:1568.51px;top:1371px;font-size:37.0px;transform:scaleX(0.9541);"><i>lag</i></div>
<div class="t" id="n2_6" style="left:1630.19px;top:1371px;font-size:37.0px;transform:scaleX(1.0060);"><i>short-term</i></div>
<div class="t" id="n2_7" style="left:1826.60px;top:1371px;font-size:37.0px;transform:scaleX(0.9428);"><i>changes</i></div>
<div class="t" id="n2_8" style="left:1978.46px;top:1371px;font-size:37.0px;transform:scaleX(0.9688);"><i>in</i></div>
<div class="t" id="n2_9" style="left:2023.00px;top:1371px;font-size:37.0px;transform:scaleX(1.0296);"><i>2025</i>.</div>
<div class="t" id="upd_0" style="left:1624.60px;top:1508px;font-size:37.5px;transform:scaleX(0.9848);">Updated</div>
<div class="t" id="upd_1" style="left:1783.80px;top:1508px;font-size:37.5px;transform:scaleX(0.9715);">through</div>
<div class="t" id="upd_2" style="left:1932.00px;top:1508px;font-size:37.5px;transform:scaleX(0.9659);">September</div>
<div class="t" id="upd_3" style="left:2131.40px;top:1508px;font-size:37.5px;transform:scaleX(0.9830);">2025</div>
<div class="t" id="f0_0" style="left:280.40px;top:1740px;font-size:29.5px;transform:scaleX(1.1000);">*12-month</div>
<div class="t" id="f0_1" style="left:449.80px;top:1740px;font-size:29.5px;transform:scaleX(1.0501);">rolling</div>
<div class="t" id="f0_2" style="left:554.00px;top:1740px;font-size:29.5px;transform:scaleX(1.0619);">median</div>
<div class="t" id="f0_3" style="left:674.20px;top:1740px;font-size:29.5px;transform:scaleX(1.0101);">condo</div>
<div class="t" id="f0_4" style="left:775.60px;top:1740px;font-size:29.5px;transform:scaleX(0.9586);">sales</div>
<div class="t" id="f0_5" style="left:859.40px;top:1740px;font-size:29.5px;transform:scaleX(0.9885);">values</div>
<div class="t" id="f0_6" style="left:961.20px;top:1740px;font-size:29.5px;transform:scaleX(1.0715);">reported</div>
<div class="t" id="f0_7" style="left:1102.60px;top:1740px;font-size:29.5px;transform:scaleX(1.0515);">to</div>
<div class="t" id="f0_8" style="left:1144.29px;top:1740px;font-size:29.5px;transform:scaleX(1.0150);">NorCal</div>
<div class="t" id="f0_9" style="left:1254.24px;top:1740px;font-size:29.5px;transform:scaleX(0.9608);">MLS</div>
<div class="t" id="f0_10" style="left:1328.01px;top:1740px;font-size:29.5px;transform:scaleX(1.0178);">Alliance,</div>
<div class="t" id="f0_11" style="left:1462.80px;top:1740px;font-size:29.5px;transform:scaleX(0.9661);">per</div>
<div class="t" id="f0_12" style="left:1522.60px;top:1740px;font-size:29.5px;transform:scaleX(1.0103);">Infosparks.</div>
<div class="t" id="f1_0" style="left:278.55px;top:1781px;font-size:29.5px;transform:scaleX(0.9714);">Analysis</div>
<div class="t" id="f1_1" style="left:416.60px;top:1781px;font-size:29.5px;transform:scaleX(1.0242);">may</div>
<div class="t" id="f1_2" style="left:499.00px;top:1781px;font-size:29.5px;transform:scaleX(1.0244);">contain</div>
<div class="t" id="f1_3" style="left:627.00px;top:1781px;font-size:29.5px;transform:scaleX(1.0162);">errors</div>
<div class="t" id="f1_4" style="left:734.47px;top:1781px;font-size:29.5px;transform:scaleX(1.0590);">and</div>
<div class="t" id="f1_5" style="left:809.00px;top:1781px;font-size:29.5px;transform:scaleX(0.9997);">subject</div>
<div class="t" id="f1_6" style="left:933.40px;top:1781px;font-size:29.5px;transform:scaleX(1.1041);">to</div>
<div class="t" id="f1_7" style="left:983.62px;top:1781px;font-size:29.5px;transform:scaleX(1.0266);">revision.</div>
<div class="t" id="f1_8" style="left:1128.09px;top:1781px;font-size:29.5px;transform:scaleX(1.0037);">Does</div>
<div class="t" id="f1_9" style="left:1219.40px;top:1781px;font-size:29.5px;transform:scaleX(1.0698);">not</div>
<div class="t" id="f1_10" style="left:1289.40px;top:1781px;font-size:29.5px;transform:scaleX(1.0293);">include</div>
<div class="t" id="f1_11" style="left:1415.60px;top:1781px;font-size:29.5px;transform:scaleX(1.0493);">new-project</div>
<div class="t" id="f1_12" style="left:1610.00px;top:1781px;font-size:29.5px;transform:scaleX(0.9509);">sales</div>
<div class="t" id="f2_0" style="left:278.05px;top:1823px;font-size:29.5px;transform:scaleX(1.0499);">unreported</div>
<div class="t" id="f2_1" style="left:451.80px;top:1823px;font-size:29.5px;transform:scaleX(1.0518);">to</div>
<div class="t" id="f2_2" style="left:488.84px;top:1823px;font-size:29.5px;transform:scaleX(1.0273);">MLS.</div>
<div class="t" id="f2_3" style="left:568.86px;top:1823px;font-size:29.5px;transform:scaleX(1.0574);">All</div>
<div class="t" id="f2_4" style="left:615.19px;top:1823px;font-size:29.5px;transform:scaleX(1.0109);">numbers</div>
<div class="t" id="f2_5" style="left:750.55px;top:1823px;font-size:29.5px;transform:scaleX(1.0472);">approximate,</div>
<div class="t" id="f2_6" style="left:951.43px;top:1823px;font-size:29.5px;transform:scaleX(1.0362);">and</div>
<div class="t" id="f2_7" style="left:1013.00px;top:1823px;font-size:29.5px;transform:scaleX(1.0399);">may</div>
<div class="t" id="f2_8" style="left:1083.80px;top:1823px;font-size:29.5px;transform:scaleX(0.9749);">change</div>
<div class="t" id="f2_9" style="left:1194.36px;top:1823px;font-size:29.5px;transform:scaleX(1.0721);">with</div>
<div class="t" id="f2_10" style="left:1266.40px;top:1823px;font-size:29.5px;transform:scaleX(1.0635);">late-reported</div>
<div class="t" id="f2_11" style="left:1467.00px;top:1823px;font-size:29.5px;transform:scaleX(0.9758);">sales.</div>
<div class="t" id="yl0" style="left:2282.15px;top:1546px;font-size:35.0px;transform:scaleX(0.9914);">$600,000</div>
<div class="t" id="yl1" style="left:2282.15px;top:1398px;font-size:35.0px;transform:scaleX(0.9914);">$700,000</div>
<div class="t" id="yl2" style="left:2282.15px;top:1251px;font-size:35.0px;transform:scaleX(0.9914);">$800,000</div>
<div class="t" id="yl3" style="left:2282.15px;top:1104px;font-size:35.0px;transform:scaleX(0.9914);">$900,000</div>
<div class="t" id="yl4" style="left:2282.14px;top:957px;font-size:35.0px;transform:scaleX(0.9942);">$1,000,000</div>
<div class="t" id="yl5" style="left:2282.14px;top:810px;font-size:35.0px;transform:scaleX(0.9942);">$1,100,000</div>
<div class="t" id="yl6" style="left:2282.14px;top:663px;font-size:35.0px;transform:scaleX(0.9942);">$1,200,000</div>
<div class="t" id="yl7" style="left:2282.14px;top:516px;font-size:35.0px;transform:scaleX(0.9942);">$1,300,000</div>
<div class="t" id="yl8" style="left:2282.14px;top:369px;font-size:35.0px;transform:scaleX(0.9942);">$1,400,000</div>
<div class="ul" style="left:380.1px;top:350.5px;width:660.7px"></div>
<div class="ul" style="left:82.0px;top:404.6px;width:235.2px"></div>
<div class="ul" style="left:764.8px;top:512.9px;width:276.0px"></div>
<div class="ul" style="left:82.0px;top:567.0px;width:173.6px"></div>
</div>
</body></html>
